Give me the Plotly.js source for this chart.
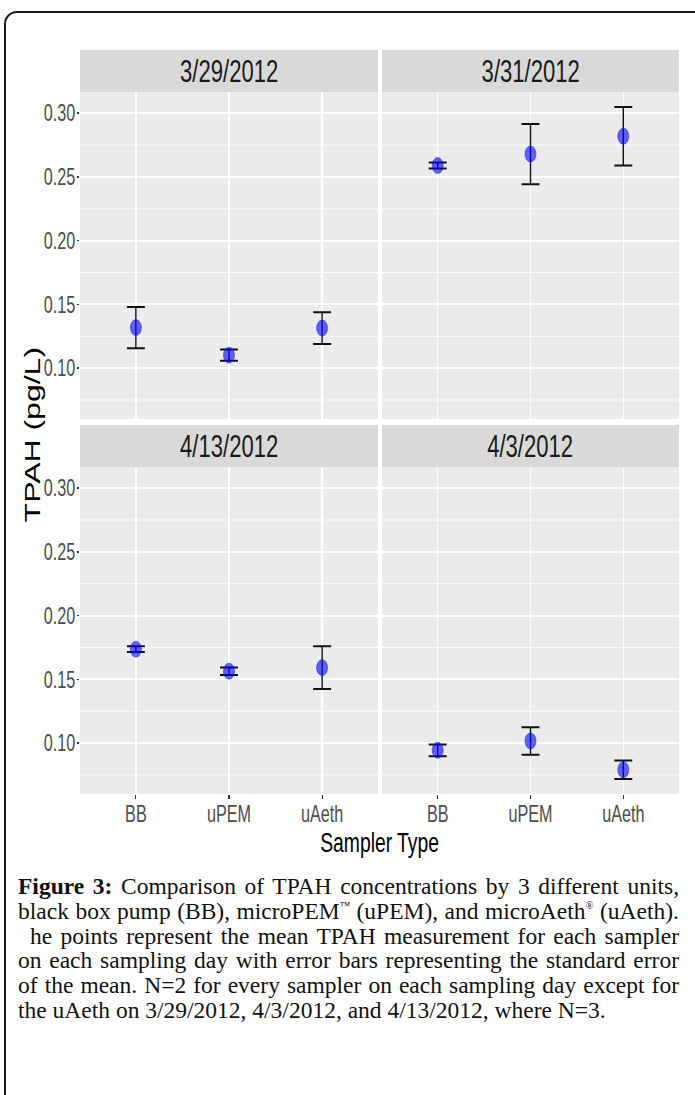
<!DOCTYPE html>
<html><head><meta charset="utf-8">
<script src="https://cdn.plot.ly/plotly-3.0.1.min.js"></script>
<style>
html,body{margin:0;padding:0;background:#fff;overflow:hidden;width:695px;height:1095px;}
#wrap{position:absolute;left:0;top:0;width:695px;height:870px;overflow:hidden;}
#chart{position:absolute;left:0;top:0;width:1008px;height:870px;transform:scaleX(0.69);transform-origin:0 0;}
#frame{position:absolute;left:4px;top:11px;width:730px;height:1130px;border:2px solid #1a1a1a;border-radius:13px;box-sizing:border-box;pointer-events:none;}
#caption{position:absolute;left:18px;top:874px;width:661px;font-family:"Liberation Serif","Times New Roman",serif;font-size:23.5px;line-height:24.8px;color:#111;}
#caption .ln{text-align:justify;text-align-last:justify;}
#caption .last{text-align:left;text-align-last:left;}
#caption sup{font-size:0.45em;vertical-align:0.9em;line-height:0;}
</style>
</head><body>
<div id="wrap"><div id="chart"></div></div>
<div id="caption">
<div class="ln"><b>Figure 3:</b> Comparison of TPAH concentrations by 3 different units,</div>
<div class="ln">black box pump (BB), microPEM<sup>™</sup> (uPEM), and microAeth<sup>®</sup> (uAeth).</div>
<div class="ln" style="padding-left:12px">he points represent the mean TPAH measurement for each sampler</div>
<div class="ln">on each sampling day with error bars representing the standard error</div>
<div class="ln">of the mean. N=2 for every sampler on each sampling day except for</div>
<div class="ln last">the uAeth on 3/29/2012, 4/3/2012, and 4/13/2012, where N=3.</div>
</div>
<div id="frame"></div>
<script>
// ---- data ----
const days = ['3/29/2012', '3/31/2012', '4/13/2012', '4/3/2012'];
const samplers = ['BB', 'uPEM', 'uAeth'];
const mean_0329 = [0.1318, 0.1102, 0.1314];
const se_0329   = [0.0162, 0.0045, 0.0124];
const mean_0331 = [0.2589, 0.2679, 0.2819];
const se_0331   = [0.0024, 0.0236, 0.0230];
const mean_0413 = [0.1737, 0.1564, 0.1592];
const se_0413   = [0.0023, 0.0029, 0.0167];
const mean_0403 = [0.0944, 0.1017, 0.0791];
const se_0403   = [0.0046, 0.0108, 0.0073];
const yTickVals = [0.10, 0.15, 0.20, 0.25, 0.30];
const yTickText = ['0.10', '0.15', '0.20', '0.25', '0.30'];
const yMinorVals = [0.075, 0.125, 0.175, 0.225, 0.275];
const xTitle = 'Sampler Type';
const yTitle = 'TPAH (pg/L)';

const means = [mean_0329, mean_0331, mean_0413, mean_0403];
const ses = [se_0329, se_0331, se_0413, se_0403];

// ---- layout geometry (final pixels; chart is squeezed horizontally by S) ----
const S = 0.69, W = 1008, H = 870;
const px = X => X / S / W;
const py = Y => 1 - Y / H;
const panels = [
  {x0: 80, x1: 378, y0: 92, y1: 419},
  {x0: 382, x1: 679, y0: 92, y1: 419},
  {x0: 80, x1: 378, y0: 467, y1: 794},
  {x0: 382, x1: 679, y0: 467, y1: 794}
];
const stripH = 42;
const FONT = '"Liberation Sans", Arial, Helvetica, sans-serif';

const traces = [];
const layout = {
  width: W, height: H,
  margin: {l: 0, r: 0, t: 0, b: 0},
  paper_bgcolor: '#ffffff',
  plot_bgcolor: '#EBEBEB',
  showlegend: false,
  font: {family: FONT},
  shapes: [], annotations: []
};

panels.forEach((p, i) => {
  const n = i === 0 ? '' : String(i + 1);
  const bottom = i >= 2, left = (i % 2 === 0);
  traces.push({
    type: 'scatter', mode: 'markers',
    x: samplers, y: means[i],
    xaxis: 'x' + n, yaxis: 'y' + n,
    error_y: {type: 'data', array: ses[i], visible: true, color: '#111111', thickness: 2, width: 13},
    marker: {symbol: 'circle', size: 16, color: 'rgba(0,0,255,0.6)', line: {width: 1, color: 'rgba(30,30,230,0.6)'}},
    hoverinfo: 'x+y'
  });
  layout['xaxis' + n] = {
    domain: [px(p.x0), px(p.x1)], anchor: 'y' + n,
    type: 'category', categoryorder: 'array', categoryarray: samplers,
    range: [-0.6, 2.6],
    showgrid: true, gridcolor: '#ffffff', gridwidth: 2.2,
    zeroline: false, showline: false,
    ticks: bottom ? 'outside' : '', ticklen: 4, tickwidth: 1.6, tickcolor: '#333333',
    showticklabels: bottom, ticklabelstandoff: -5,
    tickfont: {size: 23.5, color: '#4D4D4D', family: FONT},
    fixedrange: true
  };
  layout['yaxis' + n] = {
    domain: [py(p.y1), py(p.y0)], anchor: 'x' + n,
    range: [0.0601, 0.3166],
    tickmode: 'array', tickvals: yTickVals, ticktext: yTickText,
    showgrid: true, gridcolor: '#ffffff', gridwidth: 1.8,
    minor: {tickmode: 'array', tickvals: yMinorVals, showgrid: true, gridcolor: '#ffffff', gridwidth: 1, ticks: ''},
    zeroline: false, showline: false,
    ticks: left ? 'outside' : '', ticklen: 4, tickwidth: 1.5, tickcolor: '#333333',
    showticklabels: left, ticklabelstandoff: -3,
    tickfont: {size: 23.5, color: '#4D4D4D', family: FONT},
    fixedrange: true
  };
  // facet strip
  layout.shapes.push({
    type: 'rect', xref: 'paper', yref: 'paper', layer: 'below',
    x0: px(p.x0), x1: px(p.x1), y0: py(p.y0), y1: py(p.y0 - stripH),
    fillcolor: '#D9D9D9', line: {width: 0}
  });
  layout.annotations.push({
    xref: 'paper', yref: 'paper', showarrow: false,
    x: px((p.x0 + p.x1) / 2), y: py(p.y0 - stripH / 2),
    xanchor: 'center', yanchor: 'middle',
    text: days[i], font: {size: 32, color: '#1A1A1A', family: FONT}
  });
});

layout.annotations.push({
  xref: 'paper', yref: 'paper', showarrow: false,
  x: px((80 + 679) / 2), y: py(842), xanchor: 'center', yanchor: 'middle',
  text: xTitle, font: {size: 28, color: '#000000', family: FONT}
});
layout.annotations.push({
  xref: 'paper', yref: 'paper', showarrow: false, textangle: -90,
  x: px(32), y: py(435), xanchor: 'center', yanchor: 'middle',
  text: yTitle, font: {size: 32, color: '#000000', family: FONT}
});

Plotly.newPlot('chart', traces, layout, {displayModeBar: false, staticPlot: true});
</script>
</body></html>
